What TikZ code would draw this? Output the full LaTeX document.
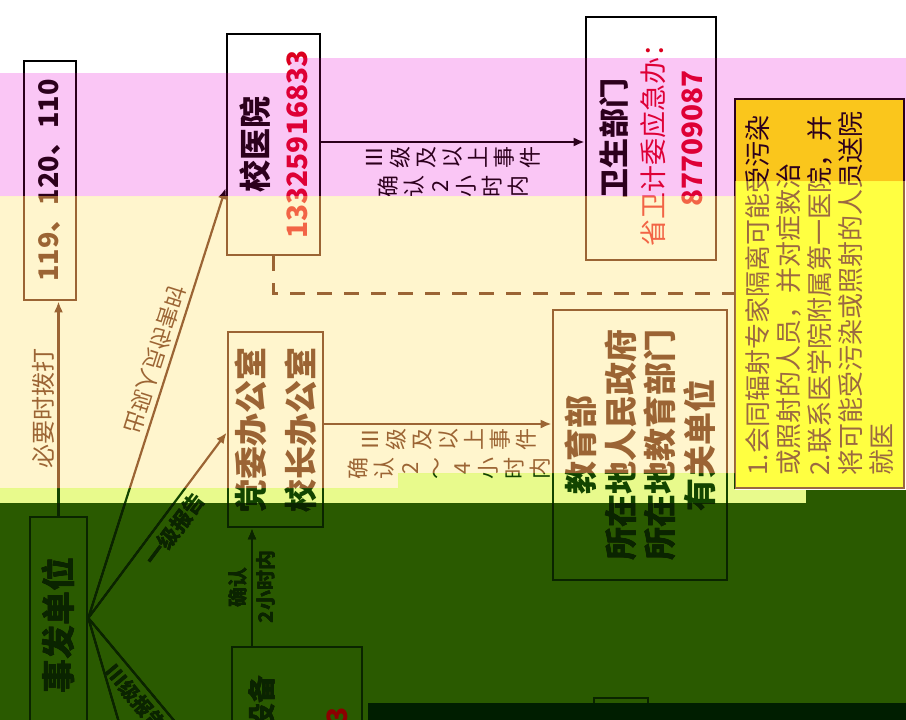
\documentclass[tikz,border=0pt]{standalone}
\usepackage{fontspec}
\setmainfont{Noto Sans CJK SC}
\usetikzlibrary{positioning,arrows.meta}

\definecolor{rd}{RGB}{220,0,30}
\definecolor{darkred}{RGB}{140,0,0}
\definecolor{notefill}{RGB}{255,255,0}
\definecolor{pinkbg}{RGB}{250,198,245}
\definecolor{pinkln}{RGB}{45,0,30}
\definecolor{beigebg}{RGB}{255,245,205}
\definecolor{brownln}{RGB}{155,105,65}
\definecolor{limebg}{RGB}{232,250,140}
\definecolor{limeln}{RGB}{20,70,0}
\definecolor{greenbg}{RGB}{42,90,0}
\definecolor{greenln}{RGB}{10,36,0}
\definecolor{darkbg}{RGB}{0,30,0}

\begin{document}
\begin{tikzpicture}[
        x=1pt, y=-1pt,
        box/.style={
                rectangle,
                draw=black,
                line width=2.6pt,
                rotate=90,
                align=center,
                inner sep=0pt,
            },
        stack/.style={
                rotate=90,
                align=center,
                inner sep=3pt,
                font=\fontsize{22}{26}\selectfont,
            },
        tag/.style={
                rotate=90,
                inner sep=3pt,
                font=\fontsize{20}{24}\selectfont,
            },
        link/.style={line width=2.2pt},
        >={Latex[length=11pt,width=9pt]}
    ]
    \fill[white] (0,0) rectangle (906,720);
    \useasboundingbox (0,0) rectangle (906,720);

    \node[box, minimum width=239pt, minimum height=52pt, font=\fontsize{27}{30}\selectfont\bfseries] (call) at (50,180.5) {119、120、110};
    \node[box, minimum width=216pt, minimum height=57pt, font=\fontsize{34}{40}\selectfont\bfseries] (source) at (58.5,625) {事发单位};
    \node[box, minimum width=221pt, minimum height=93pt, font=\fontsize{32}{40}\selectfont\bfseries] (hospital) at (273.5,144.5) {校医院\\{\fontsize{28}{40}\selectfont\color{rd}13325916833}};
    \node[box, minimum width=243pt, minimum height=130pt, font=\fontsize{30}{38.5}\selectfont] (health) at (651,138.5) {\textbf{卫生部门}\\{\fontsize{27}{38.5}\selectfont\color{rd}省卫计委应急办：}\\{\fontsize{28}{38.5}\selectfont\bfseries\color{rd}87709087}};
    \node[box, minimum width=195pt, minimum height=95pt, font=\fontsize{33}{50}\selectfont\bfseries] (office) at (275.5,429.5) {党委办公室\\校长办公室};
    \node[box, minimum width=270pt, minimum height=174pt, font=\fontsize{33}{39.5}\selectfont\bfseries] (edu) at (640,445) {教育部\\所在地人民政府\\所在地教育部门\\有关单位};
    \node[box, fill=notefill, minimum width=389pt, minimum height=169pt, align=left, font=\fontsize{26}{31}\selectfont] (notes) at (819.5,293.5) {1.会同辐射专家隔离可能受污染\\或照射的人员，并对症救治\\2.联系医学院附属第一医院，并\\将可能受污染或照射的人员送院\\就医};
    \node[box, minimum width=113pt, minimum height=130pt] (device) at (297,703.5) {};
    \node[tag, font=\fontsize{28}{30}\selectfont\bfseries] (devname) at (262,703) {设备};
    \node[box, minimum width=40pt, minimum height=54pt] (rest) at (621,718) {};

    \coordinate (fan) at ([yshift=7pt]source.south);
    \coordinate (low1) at (130,760);
    \coordinate (low2) at (207,760);

    \draw[link,->] (source.east) -- (source.east |- call.west)
        node[midway, tag, anchor=south, font=\fontsize{24}{26}\selectfont] {必要时拨打};
    \draw[link,->] (fan) -- ([yshift=-43.5pt]hospital.north)
        node[pos=0.59, sloped, yscale=-1, anchor=north, inner sep=4pt, font=\fontsize{22}{24}\selectfont] {出现人员伤害时};
    \draw[link,->] (fan) -- ([yshift=-3pt]office.north)
        node[pos=0.53, sloped, below, inner sep=5pt, font=\fontsize{21}{24}\selectfont\bfseries] {一级报告};
    \draw[link] (fan) -- (low1);
    \draw[link] (fan) -- (low2)
        node[pos=0.5, sloped, below, inner sep=4pt, font=\fontsize{20}{24}\selectfont\bfseries] {Ⅲ级报告};

    \draw[link,->] ([yshift=2.5pt]hospital.south) -- ([yshift=2.5pt]hospital.south -| health.north)
        node[pos=0.5, stack, anchor=east] (lvl1a) {Ⅲ\\级\\及\\以\\上\\事\\件};
    \node[stack, anchor=east] (lvl1b) at (lvl1a.west) {确\\认\\2\\小\\时\\内};

    \draw[link,->] ([yshift=5.5pt]office.south) -- ([yshift=5.5pt]office.south -| edu.north)
        node[pos=0.55, stack, anchor=east] (lvl2a) {Ⅲ\\级\\及\\以\\上\\事\\件};
    \node[stack, anchor=east] (lvl2b) at (lvl2a.west) {确\\认\\2\\～\\4\\小\\时\\内};

    \draw[link,->] ([xshift=-45pt]device.east) -- ([xshift=-45pt]device.east |- office.west)
        node[midway, tag, anchor=south, font=\fontsize{20}{24}\selectfont\bfseries] {确认}
        node[midway, tag, anchor=north, font=\fontsize{20}{24}\selectfont\bfseries] {2小时内};

    \draw[link, dash pattern=on 15pt off 12pt] (hospital.west) |- (notes.north);

    % colour bands laid over the chart
    \fill[pinkln, blend mode=screen] (0,73) -- (290,73) -- (290,58) -- (906,58) -- (906,181) -- (735,181) -- (735,196) -- (0,196) -- cycle;
    \fill[pinkbg, blend mode=multiply] (0,73) -- (290,73) -- (290,58) -- (906,58) -- (906,181) -- (735,181) -- (735,196) -- (0,196) -- cycle;
    \fill[brownln, blend mode=screen] (0,196) -- (735,196) -- (735,473) -- (398,473) -- (398,488) -- (0,488) -- cycle;
    \fill[beigebg, blend mode=multiply] (0,196) -- (735,196) -- (735,473) -- (398,473) -- (398,488) -- (0,488) -- cycle;
    \fill[brownln, blend mode=screen] (735,181) rectangle (906,490);
    \fill[limeln, blend mode=screen] (0,488) -- (398,488) -- (398,473) -- (735,473) -- (735,490) -- (806,490) -- (806,503) -- (0,503) -- cycle;
    \fill[limebg, blend mode=multiply] (0,488) -- (398,488) -- (398,473) -- (735,473) -- (735,490) -- (806,490) -- (806,503) -- (0,503) -- cycle;
    \fill[greenbg, blend mode=multiply] (0,503) -- (806,503) -- (806,490) -- (906,490) -- (906,720) -- (0,720) -- cycle;
    \fill[greenln, blend mode=lighten] (0,503) -- (806,503) -- (806,490) -- (906,490) -- (906,720) -- (0,720) -- cycle;
    \fill[darkbg] (368,703) rectangle (906,720);

    \node[tag, font=\fontsize{28}{30}\selectfont\bfseries, text=darkred] (devnum) at (337,716) {3};
\end{tikzpicture}
\end{document}
